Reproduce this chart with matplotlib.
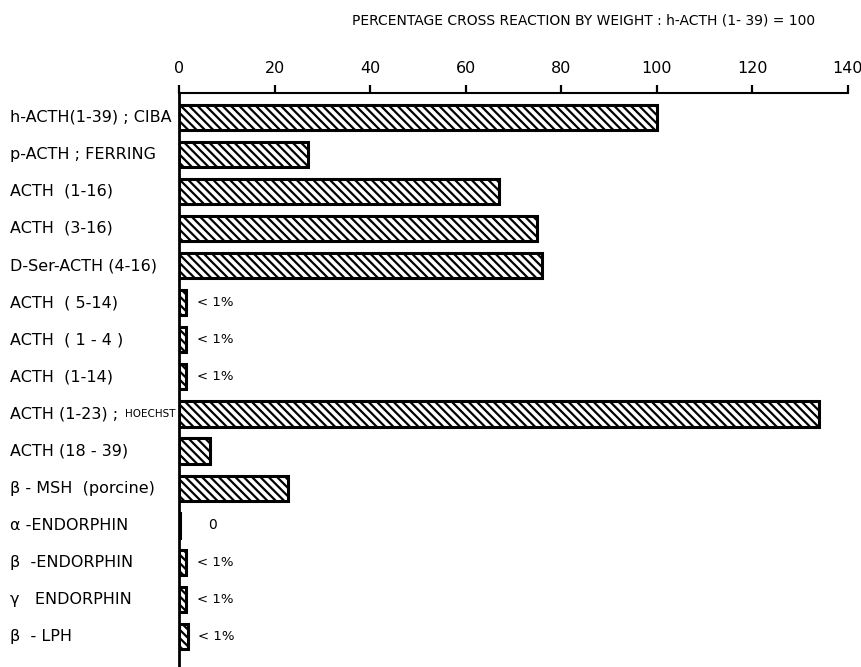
import matplotlib
matplotlib.use("Agg")
import matplotlib.pyplot as plt
import matplotlib.transforms as mtransforms

# ── data ────────────────────────────────────────────────────────────────────
labels = [
    "h-ACTH(1-39) ; CIBA",
    "p-ACTH ; FERRING",
    "ACTH  (1-16)",
    "ACTH  (3-16)",
    "D-Ser-ACTH (4-16)",
    "ACTH  ( 5-14)",
    "ACTH  ( 1 - 4 )",
    "ACTH  (1-14)",
    "ACTH (1-23) ;",
    "ACTH (18 - 39)",
    "β - MSH  (porcine)",
    "α -ENDORPHIN",
    "β  -ENDORPHIN",
    "γ   ENDORPHIN",
    "β  - LPH",
]
values = [100, 27, 67, 75, 76, 1.5, 1.5, 1.5, 134, 6.5, 22.8, 0.3, 1.5, 1.5, 1.8]
notes = ["", "", "", "", "", "< 1%", "< 1%", "< 1%", "", "", "", "0", "< 1%", "< 1%", "< 1%"]
xticks = [0, 20, 40, 60, 80, 100, 120, 140]
title = "PERCENTAGE CROSS REACTION BY WEIGHT : h-ACTH (1- 39) = 100"
# ────────────────────────────────────────────────────────────────────────────

plt.rcParams["font.family"] = ["DejaVu Sans"]
plt.rcParams["hatch.linewidth"] = 1.6

fig = plt.figure(figsize=(8.62, 6.67), dpi=100)
ax = fig.add_axes([179 / 862, 0.0, 669 / 862, 574 / 667])

ypos = list(range(len(labels)))
ax.barh(ypos, values, height=0.68, color="white", edgecolor="black",
        linewidth=2.2, hatch="\\\\\\\\")

ax.set_xlim(0, 140)
ax.set_ylim(14.82, -0.65)

ax.xaxis.tick_top()
ax.set_xticks(xticks)
ax.set_xticklabels([str(t) for t in xticks], fontsize=11.5)
ax.tick_params(axis="x", direction="out", length=6, width=1.6, pad=6)
ax.set_yticks([])

for s in ["right", "bottom"]:
    ax.spines[s].set_visible(False)
ax.spines["top"].set_linewidth(1.5)
ax.spines["left"].set_linewidth(2.0)

# row labels, left-aligned at the figure edge
trans = mtransforms.blended_transform_factory(fig.transFigure, ax.transData)
for y, lab in zip(ypos, labels):
    ax.text(10 / 862, y, lab, transform=trans, ha="left", va="center",
            fontsize=11.5, clip_on=False)
ax.text(176 / 862, 8, "HOECHST", transform=trans, ha="right", va="center",
        fontsize=7.5, clip_on=False)

# value notes next to tiny bars
for y, v, n in zip(ypos, values, notes):
    if n == "0":
        ax.text(7, y, n, ha="center", va="center", fontsize=10)
    elif n:
        ax.text(v + 2.2, y, n, ha="left", va="center", fontsize=9.5)

fig.text(815 / 862, 1 - 20 / 667, title, ha="right", va="center", fontsize=10)

fig.savefig("out.png", dpi=100)
